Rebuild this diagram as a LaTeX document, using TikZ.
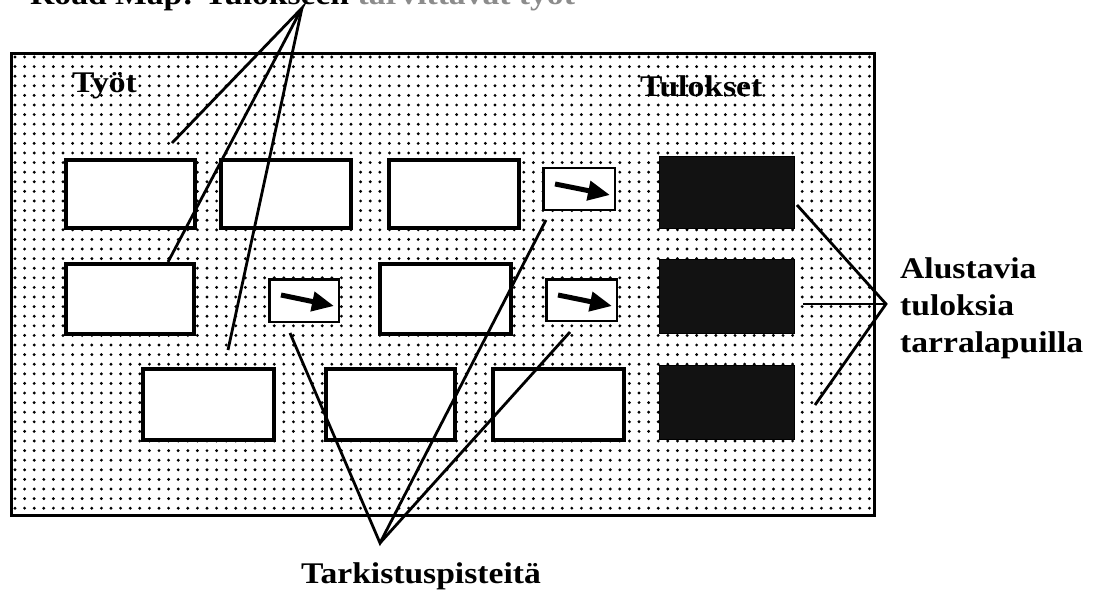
\documentclass[tikz,border=0pt]{standalone}
\usepackage{fontspec}
\setmainfont{Liberation Serif}
\usetikzlibrary{arrows.meta,calc}
\tikzset{
  task/.style={draw, line width=4pt, fill=white, inner sep=0pt},
  chk/.style={draw, line width=2.5pt, fill=white, inner sep=0pt},
  res/.style={draw, line width=1pt, fill=black!93, inner sep=0pt},
  lbl/.style={font=\bfseries\fontsize{30}{37}\selectfont, inner sep=0pt},
  conn/.style={line width=2.8pt},
  flow/.style={line width=5pt, -{Triangle[length=22pt,width=19pt]}},
  dotrow/.style={line width=3.2pt, line cap=round, dash pattern=on 0pt off 9.6pt},
}
\newcommand\sx[1]{\scalebox{1.12}[1]{#1}}
\newcommand\bx[7]{\node[#1, minimum width={#5-#3-#7}, minimum height={#6-#4-#7}] (#2) at ({(#3+#5)/2},{(#4+#6)/2}) {};}
\begin{document}
\begin{tikzpicture}[x=1pt,y=-1pt]
\useasboundingbox (0,0) rectangle (1106,591);
\clip (0,0) rectangle (1106,591);
\fill[white] (0,0) rectangle (1106,591);

% dotted background panel
\foreach \yy in {57,66.6,...,513} {
  \draw[dotrow] (15,\yy) -- (872,\yy);
}
\node[draw, line width=3pt, minimum width=863, minimum height=462, inner sep=0pt] (panel) at (443,284.5) {};

% row 1
\bx{task}{a1}{64}{158}{197}{230}{4}
\bx{task}{b1}{219}{158}{353}{230}{4}
\bx{task}{c1}{387}{158}{521}{230}{4}
\bx{chk}{s1}{542}{167}{616}{211}{2.5}
\bx{res}{d1}{659}{156}{795}{229}{1}
% row 2
\bx{task}{a2}{64}{262}{196}{336}{4}
\bx{chk}{s2}{268}{278}{340}{323}{2.5}
\bx{task}{c2}{378}{262}{513}{336}{4}
\bx{chk}{s3}{545}{278}{618}{322}{2.5}
\bx{res}{d2}{659}{259}{795}{334}{1}
% row 3
\bx{task}{e1}{141}{367}{276}{442}{4}
\bx{task}{e2}{324}{367}{457}{442}{4}
\bx{task}{e3}{491}{367}{626}{442}{4}
\bx{res}{d3}{659}{365}{795}{440}{1}

% arrows in the checkpoint boxes
\foreach \s in {s1,s2,s3} {
  \draw[flow] ($(\s.north west)+(13,17)$) -- ($(\s.north east)+(-6,28)$);
}

% labels
\node[lbl, anchor=base west] (title) at (30,5) {\sx{Road Map: Tulokseen \textcolor{black!45}{tarvittavat työt}}};
\node[lbl, anchor=base west] (tyot) at (72,93) {\sx{Työt}};
\node[lbl, anchor=base west] (tul) at (640,97) {\sx{Tulokset}};
\node[lbl, anchor=west, align=left] (alus) at (900,308) {\sx{Alustavia}\\\sx{tuloksia}\\\sx{tarralapuilla}};
\node[lbl, anchor=base] (tark) at (421,583) {\sx{Tarkistuspisteitä}};

% connector apexes and free ends
\coordinate (rmA) at (302,8);
\coordinate (rm1) at (172,143);
\coordinate (rm2) at (168,262);
\coordinate (rm3) at (228,350);
\coordinate (tkA) at (380,543);
\coordinate (tk1) at (290,333);
\coordinate (tk2) at (546,220);
\coordinate (tk3) at (570,332);
\coordinate (alA) at (886,304);
\coordinate (al1) at (797,205);
\coordinate (al2) at (803,304);
\coordinate (al3) at (815,405);

\draw[conn] (rm1) -- (rmA) -- (rm2);
\draw[conn] (rmA) -- (rm3);
\draw[conn] (tk1) -- (tkA) -- (tk2);
\draw[conn] (tkA) -- (tk3);
\draw[conn] (al1) -- (alA) -- (al3);
\draw[conn] (alA) -- (al2);
\end{tikzpicture}
\end{document}
